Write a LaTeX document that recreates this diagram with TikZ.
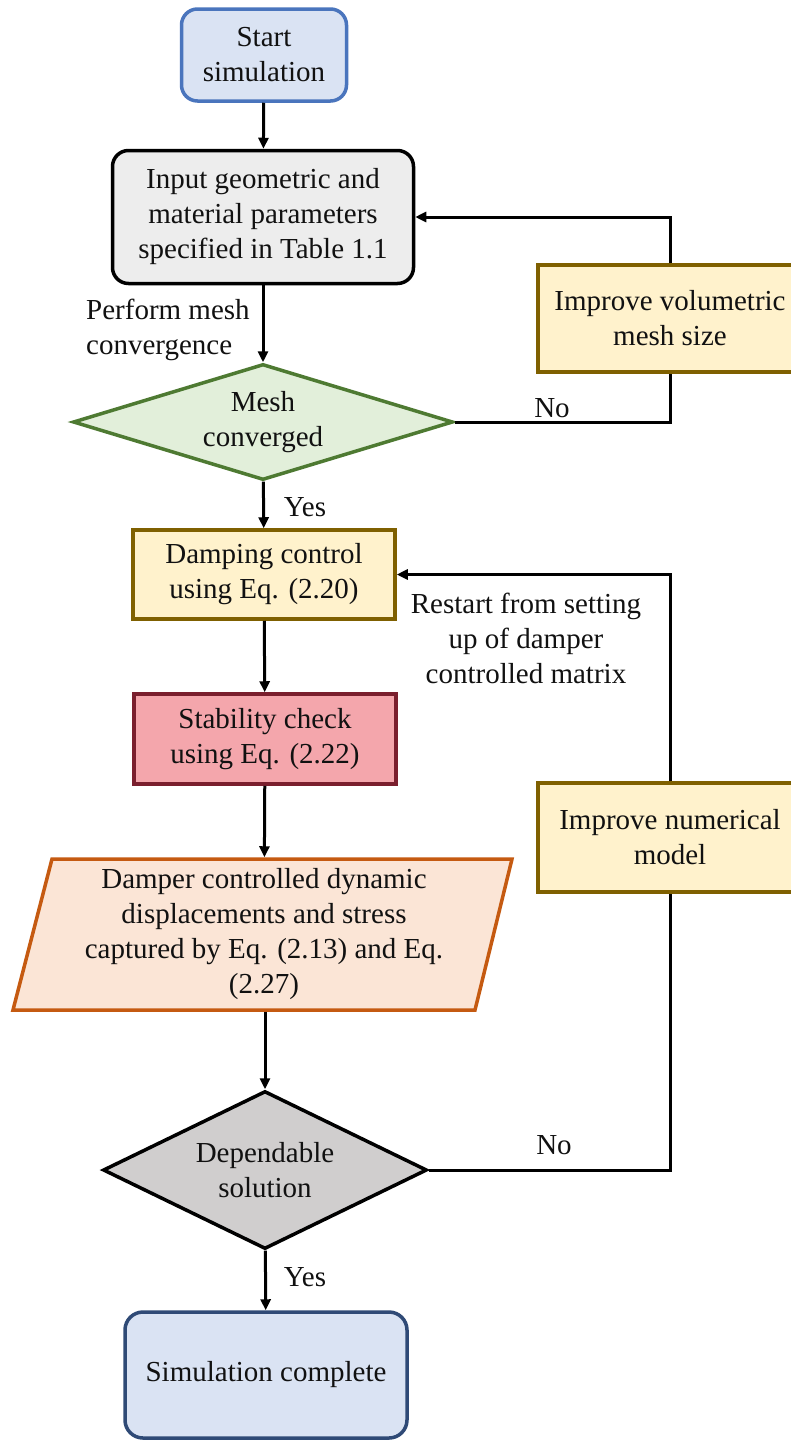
\documentclass[tikz,border=0pt]{standalone}
\usepackage{fontspec}
\setmainfont{Liberation Serif}
\usetikzlibrary{arrows.meta,shapes.geometric}
\definecolor{startfill}{HTML}{DAE3F3}
\definecolor{startdraw}{HTML}{4A75BD}
\definecolor{enddraw}{HTML}{2F4A76}
\definecolor{inputfill}{HTML}{EDEDED}
\definecolor{meshfill}{HTML}{E2EFDA}
\definecolor{meshdraw}{HTML}{4E7A32}
\definecolor{yelfill}{HTML}{FFF2CC}
\definecolor{yeldraw}{HTML}{7F6000}
\definecolor{pinkfill}{HTML}{F4A6AC}
\definecolor{pinkdraw}{HTML}{7A1F2E}
\definecolor{orfill}{HTML}{FBE5D6}
\definecolor{ordraw}{HTML}{C55A11}
\definecolor{grayfill}{HTML}{D0CECE}
\definecolor{txt}{HTML}{111111}
\begin{document}
\begin{tikzpicture}[x=1pt,y=-1pt,
  bigtxt/.style={font=\fontsize{29}{35}\selectfont, text=txt},
  boxbase/.style={rectangle, inner sep=0pt, align=center, line width=3.5pt},
  roundbox/.style={boxbase, rounded corners=16pt},
  dia/.style={diamond, inner sep=0pt, align=center, line width=3.5pt},
  flow/.style={line width=3pt, -{Triangle[length=11pt,width=10pt]}},
  plain/.style={line width=3pt},
  lbl/.style={inner sep=0pt}
]
\path[use as bounding box, fill=white] (0,0) rectangle (791,1443);

% nodes
\node[roundbox, bigtxt, fill=startfill, draw=startdraw, minimum width=165pt, minimum height=92pt]
  (start) at (264,55) {Start\\simulation};
\node[roundbox, bigtxt, fill=inputfill, draw=black, minimum width=301pt, minimum height=133pt]
  (input) at (263,217) {Input geometric and\\material parameters\\specified in Table 1.1};
\node[dia, bigtxt, fill=meshfill, draw=meshdraw, minimum width=380pt, minimum height=116pt, aspect=3.28]
  (mesh) at (263,422) {Mesh\\converged};
\node[boxbase, bigtxt, fill=yelfill, draw=yeldraw, minimum width=262pt, minimum height=89pt]
  (damp) at (264,574.5) {Damping control\\using Eq. (2.20)};
\node[boxbase, bigtxt, fill=pinkfill, draw=pinkdraw, minimum width=262pt, minimum height=90pt]
  (stab) at (265,739) {Stability check\\using Eq. (2.22)};
\filldraw[fill=orfill, draw=ordraw, line width=3.5pt, line join=miter]
  (52,859) -- (512,859) -- (475,1010) -- (13,1010) -- cycle;
\node[boxbase, bigtxt, minimum width=300pt, minimum height=151pt]
  (out) at (264,934.5) {Damper controlled dynamic\\displacements and stress\\captured by Eq. (2.13) and Eq.\\(2.27)};
\node[dia, bigtxt, fill=grayfill, draw=black, minimum width=324pt, minimum height=158pt, aspect=2.05]
  (dep) at (265,1170) {Dependable\\solution};
\node[roundbox, bigtxt, fill=startfill, draw=enddraw, minimum width=282pt, minimum height=126pt, rounded corners=18pt]
  (done) at (266,1375) {Simulation complete};
\node[boxbase, bigtxt, fill=yelfill, draw=yeldraw, minimum width=264pt, minimum height=107pt]
  (vol) at (670,318.5) {Improve volumetric\\mesh size};
\node[boxbase, bigtxt, fill=yelfill, draw=yeldraw, minimum width=264pt, minimum height=109pt]
  (num) at (670,837.5) {Improve numerical\\model};

% main flow
\draw[flow] (start) -- (input);
\draw[flow] (input) -- (mesh);
\draw[flow] (mesh) -- (damp);
\draw[flow] (damp) -- (stab);
\draw[flow] (stab) -- (out);
\draw[flow] (out.south -| dep.north) -- (dep.north);
\draw[flow] (dep) -- (done);

% feedback loops
\draw[plain] (mesh.east) -| (vol.south);
\draw[flow] (vol.north) |- (input.east);
\draw[plain] (dep.east) -| (num.south);
\draw[flow] (num.north) |- (damp.east);

% labels
\node[lbl, bigtxt, align=left, anchor=west] (lperf) at (86,330) {Perform mesh\\convergence};
\node[lbl, bigtxt] (lyes1) at (305,507) {Yes};
\node[lbl, bigtxt] (lno1) at (552,408) {No};
\node[lbl, bigtxt, align=center] (lrest) at (526,638) {Restart from setting\\up of damper\\controlled matrix};
\node[lbl, bigtxt] (lno2) at (554,1145) {No};
\node[lbl, bigtxt] (lyes2) at (305,1277) {Yes};
\end{tikzpicture}
\end{document}
